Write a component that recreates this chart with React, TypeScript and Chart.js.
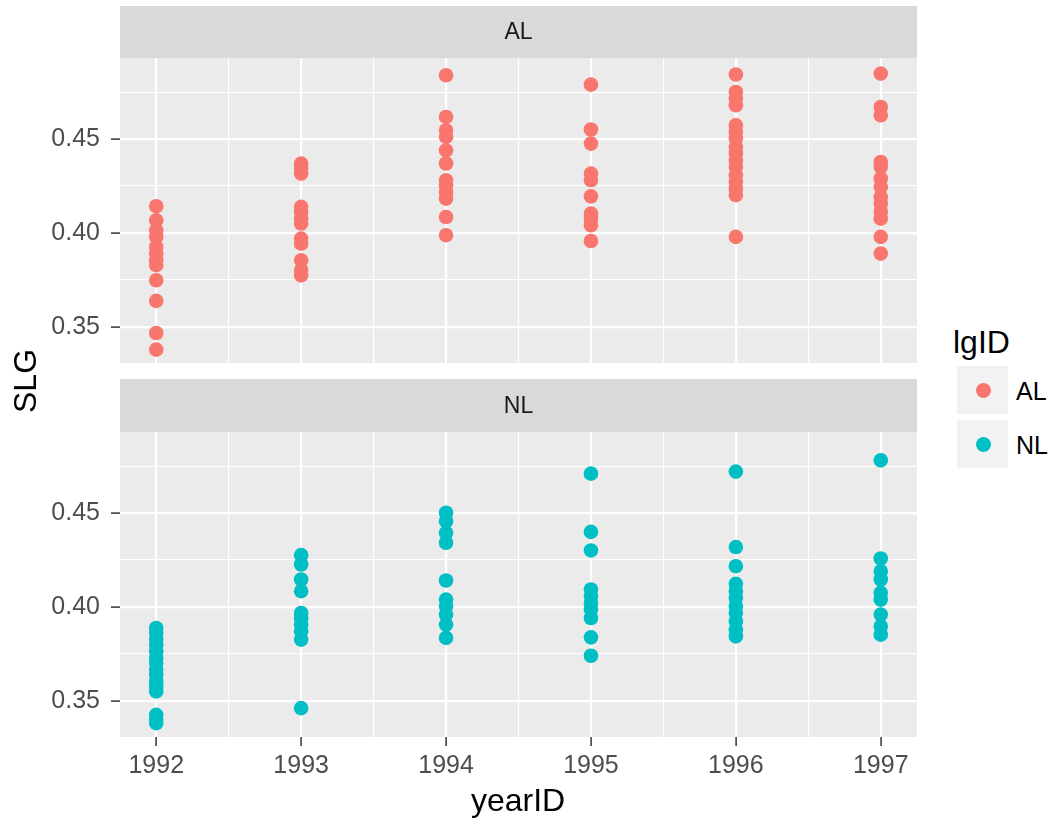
import React, { useEffect, useRef } from "react";
import { Chart, registerables } from "chart.js";

Chart.register(...registerables);

// ---- data ----
const YEARS = [1992, 1993, 1994, 1995, 1996, 1997];
const LEAGUES = ["AL", "NL"];

const AL_1992 = [0.4142, 0.4067, 0.4014, 0.3979, 0.3925, 0.389, 0.3854, 0.3828, 0.3748, 0.3638, 0.3467, 0.3378];
const AL_1993 = [0.4369, 0.4343, 0.4316, 0.4139, 0.4112, 0.4076, 0.405, 0.397, 0.3943, 0.3854, 0.3801, 0.3774];
const AL_1994 = [0.484, 0.4618, 0.4547, 0.4512, 0.444, 0.437, 0.428, 0.4254, 0.4218, 0.4183, 0.4085, 0.3988];
const AL_1995 = [0.479, 0.4551, 0.4476, 0.4316, 0.4281, 0.4195, 0.4103, 0.4076, 0.4041, 0.3957];
const AL_1996 = [0.4844, 0.4751, 0.4716, 0.468, 0.4574, 0.4538, 0.4503, 0.4458, 0.4423, 0.4387, 0.4352, 0.4307, 0.4272, 0.4236, 0.4201, 0.3979];
const AL_1997 = [0.4849, 0.4671, 0.4627, 0.4378, 0.4352, 0.429, 0.4245, 0.4192, 0.4156, 0.4112, 0.4076, 0.3979, 0.389];

const NL_1992 = [0.3888, 0.3861, 0.3826, 0.3799, 0.3763, 0.3728, 0.3701, 0.3665, 0.3639, 0.3603, 0.3577, 0.355, 0.3425, 0.3399, 0.3381];
const NL_1993 = [0.4276, 0.4226, 0.4146, 0.4084, 0.3968, 0.3941, 0.3906, 0.387, 0.3826, 0.3461];
const NL_1994 = [0.4502, 0.4457, 0.4395, 0.4342, 0.4141, 0.4039, 0.4004, 0.3959, 0.3906, 0.3835];
const NL_1995 = [0.471, 0.44, 0.4301, 0.4093, 0.4057, 0.4021, 0.3986, 0.3941, 0.3838, 0.374];
const NL_1996 = [0.4721, 0.4319, 0.4217, 0.4123, 0.4084, 0.4048, 0.4004, 0.3968, 0.3923, 0.3879, 0.3843];
const NL_1997 = [0.4781, 0.4258, 0.419, 0.4146, 0.4075, 0.4039, 0.3959, 0.3897, 0.3852];

const AL_BY_YEAR = [AL_1992, AL_1993, AL_1994, AL_1995, AL_1996, AL_1997];
const NL_BY_YEAR = [NL_1992, NL_1993, NL_1994, NL_1995, NL_1996, NL_1997];

const Y_TICKS = [0.35, 0.375, 0.4, 0.425, 0.45, 0.475];
const X_TICKS = [1992, 1992.5, 1993, 1993.5, 1994, 1994.5, 1995, 1995.5, 1996, 1996.5, 1997];
const Y_MIN = 0.3307;
const Y_MAX = 0.4932;
const X_MIN = 1991.75;
const X_MAX = 1997.25;

// ---- styles ----
const FONT = '"Liberation Sans", Arial, Helvetica, sans-serif';
const COLORS: Record<string, string> = { AL: "#F8766D", NL: "#00BFC4" };
const TICK_FONT_SIZE = 25;
const TITLE_FONT_SIZE = 32;

const isMajorY = (v: number) => Math.abs(v * 20 - Math.round(v * 20)) < 1e-6;
const isMajorX = (v: number) => Math.abs(v - Math.round(v)) < 1e-6;

const panelPlugin = {
  id: "panelStrip",
  beforeDraw(chart: any, _args: any, opts: any) {
    const { ctx, chartArea: a } = chart;
    ctx.save();
    ctx.fillStyle = "#EBEBEB";
    ctx.fillRect(a.left, a.top, a.right - a.left, a.bottom - a.top);
    ctx.fillStyle = "#D9D9D9";
    ctx.fillRect(a.left, opts.top, a.right - a.left, a.top - opts.top);
    ctx.fillStyle = "#1A1A1A";
    ctx.font = `23px ${FONT}`;
    ctx.textAlign = "center";
    ctx.textBaseline = "middle";
    ctx.fillText(opts.label, (a.left + a.right) / 2, (opts.top + a.top) / 2 + 1);
    ctx.restore();
  },
};

function buildPanel(
  canvas: HTMLCanvasElement,
  league: string,
  groups: number[][],
  showX: boolean,
  padTop: number,
  stripTop: number,
  padBottom: number,
  xHeight: number
) {
  const points: { x: number; y: number }[] = [];
  groups.forEach((vals, i) => vals.forEach((v) => points.push({ x: YEARS[i], y: v })));
  return new Chart(canvas, {
    type: "scatter",
    data: {
      datasets: [
        {
          label: league,
          data: points,
          backgroundColor: COLORS[league],
          borderWidth: 0,
          pointRadius: 7.3,
          pointHoverRadius: 7.3,
        },
      ],
    },
    options: {
      animation: false,
      responsive: false,
      maintainAspectRatio: false,
      events: [],
      layout: { padding: { top: padTop, right: 23, bottom: padBottom, left: 0 } },
      plugins: {
        legend: { display: false },
        tooltip: { enabled: false },
        // @ts-ignore
        panelStrip: { label: league, top: stripTop },
      },
      scales: {
        x: {
          type: "linear",
          min: X_MIN,
          max: X_MAX,
          afterBuildTicks: (s: any) => {
            s.ticks = X_TICKS.map((v) => ({ value: v }));
          },
          afterFit: (s: any) => {
            s.height = xHeight;
          },
          border: { display: false },
          grid: {
            color: "#FFFFFF",
            lineWidth: (c: any) => (isMajorX(c.tick.value) ? 2.2 : 1.1),
            drawTicks: showX,
            tickLength: 9,
            tickWidth: 1.5,
            tickColor: (c: any) => (isMajorX(c.tick.value) ? "#333333" : "rgba(0,0,0,0)"),
          },
          ticks: {
            display: showX,
            autoSkip: false,
            maxRotation: 0,
            padding: 5,
            color: "#4D4D4D",
            font: { family: FONT, size: TICK_FONT_SIZE },
            callback: (v: any) => (isMajorX(Number(v)) ? String(Math.round(Number(v))) : ""),
          },
        },
        y: {
          type: "linear",
          min: Y_MIN,
          max: Y_MAX,
          afterBuildTicks: (s: any) => {
            s.ticks = Y_TICKS.map((v) => ({ value: v }));
          },
          afterFit: (s: any) => {
            s.width = 120;
          },
          border: { display: false },
          grid: {
            color: "#FFFFFF",
            lineWidth: (c: any) => (isMajorY(c.tick.value) ? 2.2 : 1.1),
            drawTicks: true,
            tickLength: 9,
            tickWidth: 1.5,
            tickColor: (c: any) => (isMajorY(c.tick.value) ? "#333333" : "rgba(0,0,0,0)"),
          },
          ticks: {
            autoSkip: false,
            padding: 11,
            color: "#4D4D4D",
            font: { family: FONT, size: TICK_FONT_SIZE },
            callback: (v: any) => (isMajorY(Number(v)) ? Number(v).toFixed(2) : ""),
          },
        },
      },
    },
    plugins: [panelPlugin as any],
  });
}

export default function App() {
  const topRef = useRef<HTMLCanvasElement | null>(null);
  const botRef = useRef<HTMLCanvasElement | null>(null);

  useEffect(() => {
    const a = buildPanel(topRef.current!, LEAGUES[0], AL_BY_YEAR, false, 58, 6, 30, 0);
    const b = buildPanel(botRef.current!, LEAGUES[1], NL_BY_YEAR, true, 60, 7, 0, 88);
    return () => {
      a.destroy();
      b.destroy();
    };
  }, []);

  const legendKey = (lg: string, top: number) => (
    <div key={lg}>
      <div
        style={{
          position: "absolute",
          left: 957,
          top,
          width: 51,
          height: 48,
          background: "#F2F2F2",
        }}
      />
      <div
        style={{
          position: "absolute",
          left: 983 - 7.5,
          top: top + 24 - 7.5,
          width: 15,
          height: 15,
          borderRadius: "50%",
          background: COLORS[lg],
        }}
      />
      <div
        style={{
          position: "absolute",
          left: 1016,
          top: top + 25,
          transform: "translateY(-50%)",
          fontSize: TICK_FONT_SIZE,
          color: "#000",
          lineHeight: 1,
        }}
      >
        {lg}
      </div>
    </div>
  );

  return (
    <div
      style={{
        position: "absolute",
        left: 0,
        top: 0,
        width: 1056,
        height: 825,
        background: "#FFFFFF",
        fontFamily: FONT,
        overflow: "hidden",
      }}
    >
      <canvas
        ref={topRef}
        width={940}
        height={393}
        style={{ position: "absolute", left: 0, top: 0, width: 940, height: 393 }}
      />
      <canvas
        ref={botRef}
        width={940}
        height={453}
        style={{ position: "absolute", left: 0, top: 372, width: 940, height: 453 }}
      />
      <div
        style={{
          position: "absolute",
          left: 25,
          top: 381,
          transform: "translate(-50%, -50%) rotate(-90deg)",
          fontSize: TITLE_FONT_SIZE,
          color: "#000",
          lineHeight: 1,
          whiteSpace: "nowrap",
        }}
      >
        SLG
      </div>
      <div
        style={{
          position: "absolute",
          left: 518,
          top: 800,
          transform: "translate(-50%, -50%)",
          fontSize: TITLE_FONT_SIZE,
          color: "#000",
          lineHeight: 1,
          whiteSpace: "nowrap",
        }}
      >
        yearID
      </div>
      <div
        style={{
          position: "absolute",
          left: 953,
          top: 342,
          transform: "translateY(-50%)",
          fontSize: TITLE_FONT_SIZE,
          color: "#000",
          lineHeight: 1,
        }}
      >
        lgID
      </div>
      {legendKey("AL", 366)}
      {legendKey("NL", 420)}
    </div>
  );
}
